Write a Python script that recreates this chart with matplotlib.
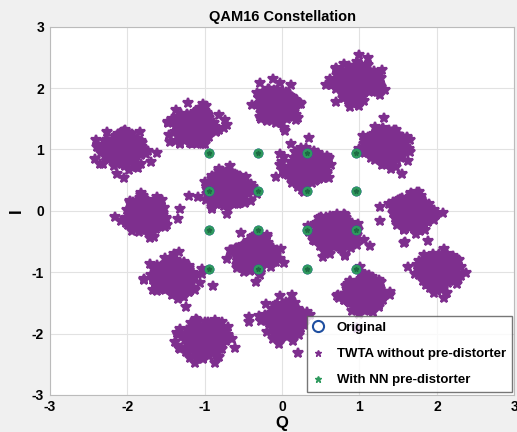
import numpy as np
import matplotlib
matplotlib.use('Agg')
import matplotlib.pyplot as plt
from matplotlib.lines import Line2D

plt.rcParams['font.family'] = ['Liberation Sans', 'DejaVu Sans']
plt.rcParams['font.weight'] = 'bold'
plt.rcParams['axes.unicode_minus'] = False

# ideal 16-QAM points (Original / with NN pre-distorter)
levels = [-0.949, -0.316, 0.316, 0.949]

# cluster centres of the TWTA output (Q, I)
twta_q = [0.95, -0.05, -1.12, -2.05, 1.35, 0.32, -0.70, 1.69,
          -1.75, 0.66, -0.35, 2.04, -1.38, 1.05, 0.04, -0.99]
twta_i = [2.10, 1.72, 1.36, 1.00, 1.07, 0.70, 0.34, -0.02,
          -0.05, -0.35, -0.70, -1.00, -1.10, -1.37, -1.78, -2.10]
noise_std = 0.105
pts_per_cluster = 450

purple = '#7e2f8e'
green = '#2f9a5e'
blue = '#1f4fa0'

fig = plt.figure(figsize=(5.17, 4.32), dpi=100, facecolor='#f0f0f0')
ax = fig.add_axes([0.096, 0.086, 0.899, 0.852])

# channel noise around each distorted cluster centre
rng = np.random.default_rng(11)
for q, i in zip(twta_q, twta_i):
    dq = rng.standard_t(12, pts_per_cluster) * noise_std
    di = rng.standard_t(12, pts_per_cluster) * noise_std
    ax.plot(q + dq, i + di, '*', color=purple, ms=7, mew=1.6)

qq, ii = np.meshgrid(levels, levels)
ax.plot(qq.ravel(), ii.ravel(), 'o', mfc='none', mec=blue, ms=6, mew=1.2)
ax.plot(qq.ravel(), ii.ravel(), 'o', color=green, ms=6)
ax.plot(qq.ravel(), ii.ravel(), '*', color='#1d6b45', ms=3.5)

ax.set_xlim(-3, 3)
ax.set_ylim(-3, 3)
ax.set_xticks([-3, -2, -1, 0, 1, 2, 3])
ax.set_yticks([-3, -2, -1, 0, 1, 2, 3])
ax.grid(True, color='#e2e2e2', lw=0.8)
ax.set_axisbelow(True)
ax.tick_params(labelsize=10, length=0, pad=4)
for s in ax.spines.values():
    s.set_color('#bbbbbb')
ax.set_title('QAM16 Constellation', fontsize=10.5, fontweight='bold', pad=4)
ax.set_xlabel('Q', fontsize=12, fontweight='bold', labelpad=1)
ax.set_ylabel('I', fontsize=12, fontweight='bold', labelpad=6)

handles = [
    Line2D([], [], ls='none', marker='o', mfc='none', mec=blue, ms=8, mew=1.5),
    Line2D([], [], ls='none', marker='*', color=purple, ms=5),
    Line2D([], [], ls='none', marker='*', color=green, ms=5),
]
labels = ['Original', 'TWTA without pre-distorter', 'With NN pre-distorter']
leg = ax.legend(handles, labels, loc='lower right', fontsize=9.5, frameon=True,
                fancybox=False, edgecolor='#555555', borderpad=0.45,
                labelspacing=1.05, handlelength=0.8, handletextpad=1.0,
                borderaxespad=0.2)
leg.get_frame().set_linewidth(1.0)

fig.savefig('out.png', dpi=100, facecolor=fig.get_facecolor())
